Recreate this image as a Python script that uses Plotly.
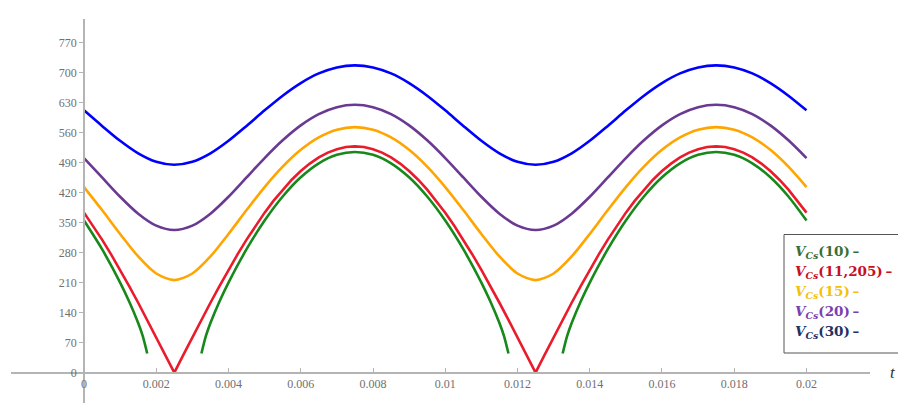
import numpy as np
import plotly.graph_objects as go

# ---------------- data ----------------
t_coarse = list(np.round(np.linspace(0, 0.02, 41), 5))      # 0.0005 step
t_fine = list(np.round(np.linspace(0, 0.02, 81), 6))        # 0.00025 step

v_cs_30 = [612.1, 575.8, 541.0, 511.7, 492.0, 485, 492.0, 511.7, 541.0, 575.8,
           612.1, 646.3, 675.7, 698.2, 712.2, 717, 712.2, 698.2, 675.7, 646.3,
           612.1, 575.8, 541.0, 511.7, 492.0, 485, 492.0, 511.7, 541.0, 575.8,
           612.1, 646.3, 675.7, 698.2, 712.2, 717, 712.2, 698.2, 675.7, 646.3, 612.1]

v_cs_20 = [500.8, 455.6, 410.5, 371.0, 343.1, 333, 343.1, 371.0, 410.5, 455.6,
           500.8, 542.2, 577.0, 603.3, 619.5, 625, 619.5, 603.3, 577.0, 542.2,
           500.8, 455.6, 410.5, 371.0, 343.1, 333, 343.1, 371.0, 410.5, 455.6,
           500.8, 542.2, 577.0, 603.3, 619.5, 625, 619.5, 603.3, 577.0, 542.2, 500.8]

v_cs_15 = [433.0, 379.4, 323.6, 271.2, 231.4, 216, 231.4, 271.2, 323.6, 379.4,
           433.0, 480.6, 519.9, 549.0, 567.0, 573, 567.0, 549.0, 519.9, 480.6,
           433.0, 379.4, 323.6, 271.2, 231.4, 216, 231.4, 271.2, 323.6, 379.4,
           433.0, 480.6, 519.9, 549.0, 567.0, 573, 567.0, 549.0, 519.9, 480.6, 433.0]

v_cs_11 = [373.4, 342.9, 310.4, 275.9, 239.7, 202.1, 163.2, 123.3, 82.6, 41.4, 0,
           41.4, 82.6, 123.3, 163.2, 202.1, 239.7, 275.9, 310.4, 342.9, 373.4,
           401.5, 427.2, 450.2, 470.5, 487.8, 502.2, 513.4, 521.5, 526.4, 528,
           526.4, 521.5, 513.4, 502.2, 487.8, 470.5, 450.2, 427.2, 401.5, 373.4,
           342.9, 310.4, 275.9, 239.7, 202.1, 163.2, 123.3, 82.6, 41.4, 0,
           41.4, 82.6, 123.3, 163.2, 202.1, 239.7, 275.9, 310.4, 342.9, 373.4,
           401.5, 427.2, 450.2, 470.5, 487.8, 502.2, 513.4, 521.5, 526.4, 528,
           526.4, 521.5, 513.4, 502.2, 487.8, 470.5, 450.2, 427.2, 401.5, 373.4]

t_cs_10 = [0, 0.0005, 0.001, 0.00125, 0.0015, 0.001625, 0.00175, None,
           0.00325, 0.003375, 0.0035, 0.00375, 0.004, 0.0045, 0.005, 0.0055, 0.006,
           0.0065, 0.007, 0.0075, 0.008, 0.0085, 0.009, 0.0095, 0.01, 0.0105,
           0.011, 0.01125, 0.0115, 0.011625, 0.01175, None,
           0.01325, 0.013375, 0.0135, 0.01375, 0.014, 0.0145, 0.015, 0.0155, 0.016,
           0.0165, 0.017, 0.0175, 0.018, 0.0185, 0.019, 0.0195, 0.02]
v_cs_10 = [355.0, 288.1, 210.3, 166.1, 115.8, 85.7, 44.7, None,
           44.7, 85.7, 115.8, 166.1, 210.3, 288.1, 355.0, 411.1, 455.9,
           488.5, 508.3, 515, 508.3, 488.5, 455.9, 411.1, 355.0, 288.1,
           210.3, 166.1, 115.8, 85.7, 44.7, None,
           44.7, 85.7, 115.8, 166.1, 210.3, 288.1, 355.0, 411.1, 455.9,
           488.5, 508.3, 515, 508.3, 488.5, 455.9, 411.1, 355.0]

x_tickvals = [0, 0.002, 0.004, 0.006, 0.008, 0.01, 0.012, 0.014, 0.016, 0.018, 0.02]
x_ticktext = ["0", "0.002", "0.004", "0.006", "0.008", "0.01", "0.012", "0.014",
              "0.016", "0.018", "0.02"]
y_tickvals = [0, 70, 140, 210, 280, 350, 420, 490, 560, 630, 700, 770]
y_ticktext = [str(v) for v in y_tickvals]

legend_labels = ["10", "11,205", "15", "20", "30"]
legend_colors = ["#3b6e35", "#c8101e", "#f2c20a", "#7a3fae", "#1f3262"]

# ---------------- figure ----------------
X_RANGE = [-0.0020208, 0.021758]
Y_RANGE = [-70.7, 825.2]
AXIS_GRAY = "#b4b4b4"
FIG_W, FIG_H = 898, 403
M_L, M_R, M_T, M_B = 11, 28, 19, 0
PLOT_W, PLOT_H = FIG_W - M_L - M_R, FIG_H - M_T - M_B


def px_to_paper_x(px):
    return (px - M_L) / PLOT_W


def px_to_paper_y(py):
    return (FIG_H - M_B - py) / PLOT_H


fig = go.Figure()
fig.add_trace(go.Scatter(x=t_cs_10, y=v_cs_10, mode="lines", connectgaps=False,
                         line=dict(color="#17891a", width=2.6, shape="spline", smoothing=0.8)))
fig.add_trace(go.Scatter(x=t_fine, y=v_cs_11, mode="lines",
                         line=dict(color="#ea1c2c", width=2.6)))
fig.add_trace(go.Scatter(x=t_coarse, y=v_cs_15, mode="lines",
                         line=dict(color="#ffa500", width=2.6, shape="spline", smoothing=0.8)))
fig.add_trace(go.Scatter(x=t_coarse, y=v_cs_20, mode="lines",
                         line=dict(color="#6a3a93", width=2.6, shape="spline", smoothing=0.8)))
fig.add_trace(go.Scatter(x=t_coarse, y=v_cs_30, mode="lines",
                         line=dict(color="#0000ff", width=2.6, shape="spline", smoothing=0.8)))

# axis arrowheads
fig.add_trace(go.Scatter(x=[0.02186], y=[0], mode="markers", cliponaxis=False,
                         marker=dict(symbol="triangle-right", size=9, color="#9a9a9a"),
                         hoverinfo="skip"))
fig.add_trace(go.Scatter(x=[0], y=[832], mode="markers", cliponaxis=False,
                         marker=dict(symbol="triangle-up", size=9, color="#9a9a9a"),
                         hoverinfo="skip"))

tickfont = dict(family="Liberation Serif", size=12, color="#707070")
fig.update_layout(
    width=FIG_W, height=FIG_H,
    margin=dict(l=M_L, r=M_R, t=M_T, b=M_B),
    plot_bgcolor="white", paper_bgcolor="white",
    showlegend=False,
    xaxis=dict(range=X_RANGE, showgrid=False, zeroline=False, showline=True,
               linecolor=AXIS_GRAY, linewidth=1.5, anchor="free",
               position=(0 - Y_RANGE[0]) / (Y_RANGE[1] - Y_RANGE[0]),
               tickmode="array", tickvals=x_tickvals, ticktext=x_ticktext,
               ticks="inside", ticklen=4, tickcolor=AXIS_GRAY, tickwidth=1.2,
               tickfont=tickfont),
    yaxis=dict(range=Y_RANGE, showgrid=False, zeroline=False, showline=True,
               linecolor=AXIS_GRAY, linewidth=1.5, anchor="free",
               position=(0 - X_RANGE[0]) / (X_RANGE[1] - X_RANGE[0]),
               tickmode="array", tickvals=y_tickvals, ticktext=y_ticktext,
               ticks="outside", ticklen=4, tickcolor=AXIS_GRAY, tickwidth=1.2,
               tickfont=tickfont),
)

# x axis label
fig.add_annotation(xref="paper", yref="y", x=px_to_paper_x(888), y=0, text="<i>t</i>",
                   showarrow=False, xanchor="left", yanchor="middle",
                   font=dict(family="Liberation Serif", size=17, color="#333333"))

# legend box
fig.add_shape(type="rect", xref="paper", yref="paper",
              x0=px_to_paper_x(784), x1=px_to_paper_x(940),
              y0=px_to_paper_y(353), y1=px_to_paper_y(234.5),
              line=dict(color="#555555", width=1), fillcolor="white", layer="above")

for i, (lab, col) in enumerate(zip(legend_labels, legend_colors)):
    txt = (f"<b><i>V</i></b><sub><b><i>Cs</i></b></sub>"
           f"<b>({lab})</b><b>\u2009–</b>")
    fig.add_annotation(xref="paper", yref="paper", x=px_to_paper_x(793),
                       y=px_to_paper_y(252 + 20 * i),
                       xanchor="left", yanchor="middle", align="left",
                       text=txt, showarrow=False,
                       font=dict(family="DejaVu Serif", size=13.5, color=col))

fig.write_html("out.html", config={"displayModeBar": False},
               post_script="document.body.style.margin='0px';")
